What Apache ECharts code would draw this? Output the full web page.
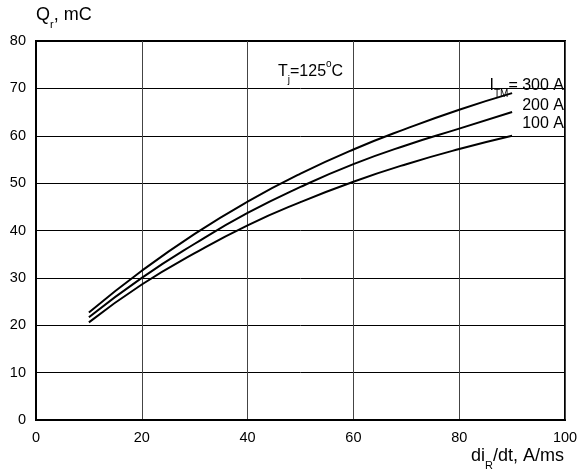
<!DOCTYPE html>
<html>
<head>
<meta charset="utf-8">
<script src="https://cdn.jsdelivr.net/npm/echarts@6/dist/echarts.min.js"></script>
<style>
  html, body { margin: 0; padding: 0; background: #fff; }
</style>
</head>
<body>
<div id="chart" style="width:582px;height:475px"></div>
<script>
// di/dt values, A/us
const diR = [10, 20, 30, 40, 50, 60, 70, 80, 90];
// Qr, uC for each current
const q300 = [22.7, 31.5, 39.3, 46.1, 52.0, 57.1, 61.5, 65.5, 69.0];
const q200 = [21.7, 30.0, 37.2, 43.7, 49.2, 54.0, 58.0, 61.5, 65.0];
const q100 = [20.6, 28.6, 35.2, 41.1, 46.0, 50.3, 54.0, 57.2, 60.0];

const FONT = "'Liberation Sans', Arial, sans-serif";

const myChart = echarts.init(document.getElementById("chart"));

function curve(name, vals) {
  return {
    name: name,
    type: "line",
    smooth: true,
    symbol: "none",
    lineStyle: { color: "#000", width: 2 },
    data: diR.map((x, i) => [x, vals[i]]),
    z: 5,
  };
}

// rich text pieces for subscripts / superscripts
const rich = {
  n: { fontSize: 18, fontFamily: FONT, color: "#000", verticalAlign: "bottom", lineHeight: 20 },
  sub: { fontSize: 11, fontFamily: FONT, color: "#000", verticalAlign: "bottom", lineHeight: 12, padding: [0, 0, -6, 0] },
  s: { fontSize: 16, fontFamily: FONT, color: "#000", verticalAlign: "bottom", lineHeight: 18 },
  ss: { fontSize: 10, fontFamily: FONT, color: "#000", verticalAlign: "bottom", lineHeight: 11, padding: [0, 0, -5, 0] },
  ssup: { fontSize: 10, fontFamily: FONT, color: "#000", verticalAlign: "top", lineHeight: 11, padding: [-3, 0, 0, 0] },
};

let option = {
  animation: false,
  backgroundColor: "#fff",
  grid: {
    left: 36,
    right: 17,
    top: 41,
    bottom: 55,
    show: true,
    borderColor: "#000",
    borderWidth: 2,
  },
  xAxis: {
    type: "value",
    min: 0,
    max: 100,
    interval: 20,
    axisLine: { show: true, lineStyle: { color: "#000", width: 2 } },
    axisTick: { show: false },
    axisLabel: { color: "#000", fontSize: 14.5, fontFamily: FONT, margin: 10 },
    splitLine: { show: true, lineStyle: { color: "#444", width: 1 } },
  },
  yAxis: {
    type: "value",
    min: 0,
    max: 80,
    interval: 10,
    axisLine: { show: true, lineStyle: { color: "#000", width: 2 } },
    axisTick: { show: false },
    axisLabel: { color: "#000", fontSize: 14.5, fontFamily: FONT, margin: 10 },
    splitLine: { show: true, lineStyle: { color: "#000", width: 1 } },
  },
  graphic: [
    {
      type: "text",
      left: 36,
      top: 6,
      style: {
        text: "{n|Q}{sub|r}{n|, mC}",
        rich: rich,
      },
    },
    {
      type: "text",
      right: 18,
      top: 447,
      style: {
        text: "{n|di}{sub|R}{n|/dt, A/ms}",
        rich: rich,
      },
    },
    {
      type: "text",
      left: 278,
      top: 59,
      style: {
        text: "{s|T}{ss|j}{s|=125}{ssup|o}{s|C}",
        rich: rich,
      },
    },
    {
      type: "text",
      right: 18,
      top: 78,
      style: {
        text: "{s|I}{ss|TM}{s|= 300 A}",
        rich: rich,
      },
    },
    {
      type: "text",
      right: 18,
      top: 98,
      style: { text: "{s|200 A}", rich: rich },
    },
    {
      type: "text",
      right: 18,
      top: 116,
      style: { text: "{s|100 A}", rich: rich },
    },
  ],
  series: [curve("300 A", q300), curve("200 A", q200), curve("100 A", q100)],
};

myChart.setOption(option);
</script>
</body>
</html>
